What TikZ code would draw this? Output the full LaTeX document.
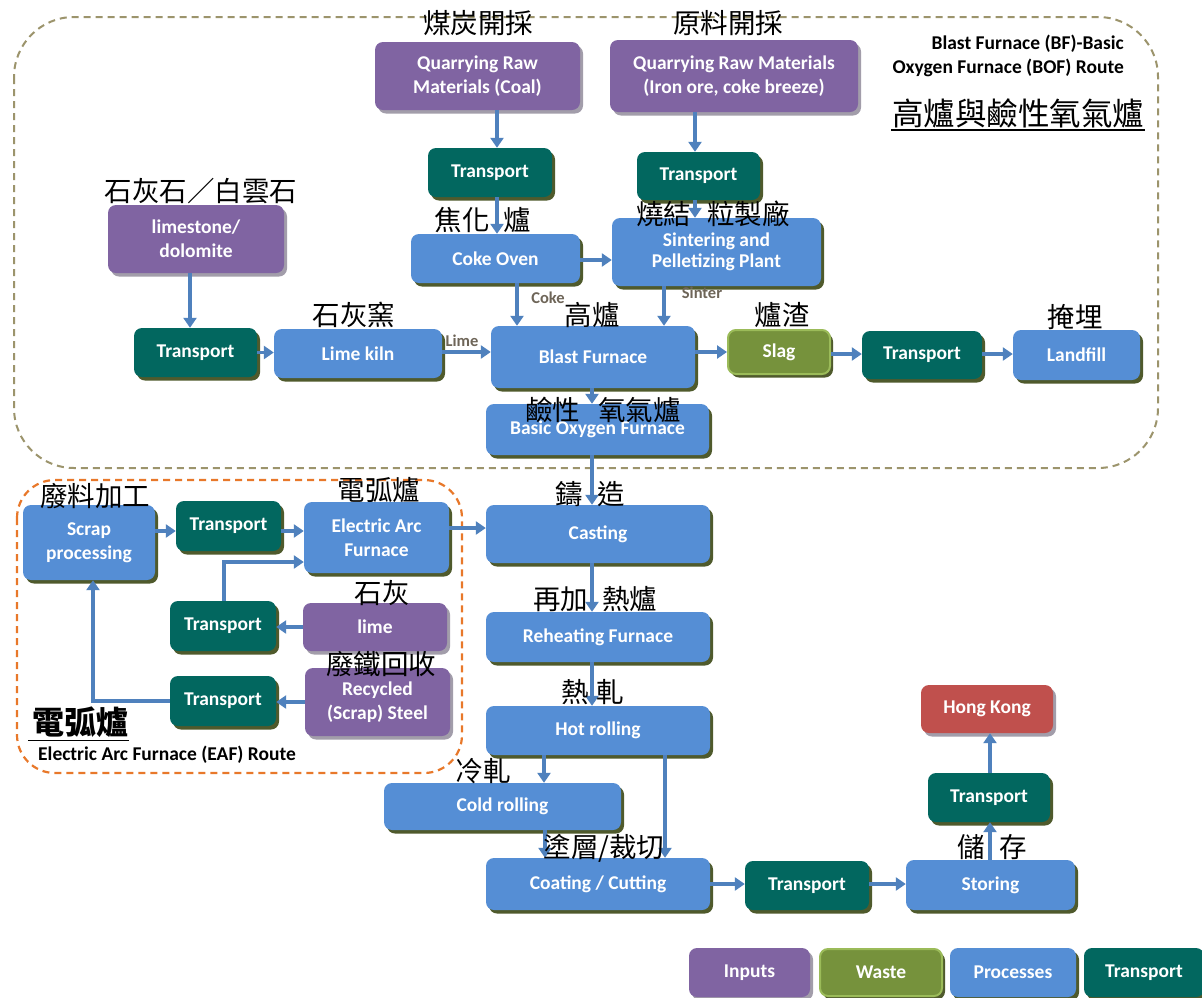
\documentclass[tikz,border=0pt]{standalone}
\usepackage{fontspec}
\setmainfont{Carlito}
\newfontfamily\cjk{Noto Sans CJK TC}
\usetikzlibrary{arrows.meta,calc}

\definecolor{inputc}{HTML}{8064A2}
\definecolor{wastec}{HTML}{76923C}
\definecolor{wasteb}{HTML}{9BBB59}
\definecolor{procc}{HTML}{558ED5}
\definecolor{transc}{HTML}{02675F}
\definecolor{hkc}{HTML}{C0504D}
\definecolor{arrc}{HTML}{4F81BD}
\definecolor{shadc}{HTML}{4F5A2C}
\definecolor{greyshad}{HTML}{A29DAA}
\definecolor{routec}{HTML}{9C946C}
\definecolor{eafc}{HTML}{E8782A}
\definecolor{smallc}{HTML}{6E6558}

\tikzset{
  box/.style={rounded corners=8pt, text=white, align=center, inner sep=0pt,
    font=\bfseries\fontsize{19.5}{24}\selectfont},
  olshadow/.style={preaction={fill=shadc, transform canvas={shift={(3pt,-3.5pt)}}}},
  grshadow/.style={preaction={fill=greyshad, transform canvas={shift={(3pt,-3.5pt)}}}},
  inp/.style={box, grshadow, fill=inputc},
  proc/.style={box, olshadow, fill=procc},
  trans/.style={box, olshadow, fill=transc},
  waste/.style={box, olshadow, fill=wastec, draw=wasteb, line width=2pt},
  dest/.style={box, grshadow, fill=hkc},
  arr/.style={draw=arrc, line width=3.2pt, -{Triangle[length=10pt,width=13pt]}},
  cjklab/.style={font=\cjk\fontsize{27.5}{27.5}\selectfont, text=black, inner sep=0pt},
  smalllab/.style={font=\bfseries\fontsize{16.5}{16.5}\selectfont, text=smallc, inner sep=0pt},
  routelab/.style={font=\bfseries\fontsize{19.5}{24}\selectfont, text=black, inner sep=0pt},
}

\begin{document}
\begin{tikzpicture}[x=1pt, y=-1pt]
\useasboundingbox (0,0) rectangle (1202,997);
\fill[white] (0,0) rectangle (1202,997);

% route frames
\draw[routec, line width=2pt, dash pattern=on 7pt off 5pt, rounded corners=60pt]
  (14,17) rectangle (1158,468);
\draw[eafc, line width=2.2pt, dash pattern=on 7pt off 5pt, rounded corners=38pt]
  (17,480) rectangle (462,773);

% ---------- BF-BOF route ----------
\node[inp, minimum width=205pt, minimum height=68pt] (qcoal) at (477.5,76) {Quarrying Raw\\Materials (Coal)};
\node[inp, minimum width=248pt, minimum height=72pt] (qore) at (734,76) {Quarrying Raw Materials\\(Iron ore, coke breeze)};
\node[trans, minimum width=124pt, minimum height=49pt] (trC) at (490,172.5) {Transport};
\node[trans, minimum width=123pt, minimum height=48pt] (trO) at (698.5,176) {Transport};
\node[inp, minimum width=176pt, minimum height=68pt] (lstone) at (196,239) {limestone/\\dolomite};
\node[proc, minimum width=169pt, minimum height=49pt] (coke) at (495.5,258.5) {Coke Oven};
\node[proc, minimum width=209pt, minimum height=68pt] (sinter) at (716.5,252) {\raisebox{-3pt}{\shortstack{Sintering and\\[1pt]Pelletizing Plant}}};
\node[trans, minimum width=123pt, minimum height=49pt] (trL) at (195.5,352.5) {Transport};
\node[proc, minimum width=168pt, minimum height=49pt] (kiln) at (358,353.5) {Lime kiln};
\node[proc, minimum width=204pt, minimum height=62pt] (bf) at (593,357) {\raisebox{-5pt}{Blast Furnace}};
\node[waste, minimum width=102pt, minimum height=44pt] (slag) at (779,352) {Slag};
\node[trans, minimum width=120pt, minimum height=48pt] (trS) at (922,355) {Transport};
\node[proc, minimum width=127pt, minimum height=50pt] (landfill) at (1076.5,355) {Landfill};
\node[proc, minimum width=223pt, minimum height=51pt] (bof) at (597.5,429.5) {\raisebox{-2pt}{Basic Oxygen Furnace}};

% ---------- EAF route ----------
\node[proc, minimum width=132pt, minimum height=75pt] (scrap) at (89,542.5) {Scrap\\processing};
\node[trans, minimum width=105pt, minimum height=50pt] (trE1) at (228.5,526) {Transport};
\node[proc, minimum width=145pt, minimum height=71pt] (eaf) at (376.5,537.5) {Electric Arc\\Furnace};
\node[trans, minimum width=106pt, minimum height=50pt] (trE2) at (223,626) {Transport};
\node[inp, minimum width=144pt, minimum height=48pt] (limeE) at (375,627) {lime};
\node[trans, minimum width=106pt, minimum height=50pt] (trE3) at (223,701) {Transport};
\node[inp, minimum width=145pt, minimum height=68pt] (recyc) at (377.5,702) {Recycled\\(Scrap) Steel};

% ---------- downstream ----------
\node[proc, minimum width=224pt, minimum height=58pt] (cast) at (598,534) {Casting};
\node[proc, minimum width=224pt, minimum height=50pt] (reheat) at (598,637) {Reheating Furnace};
\node[proc, minimum width=224pt, minimum height=49pt] (hot) at (598,730.5) {Hot rolling};
\node[proc, minimum width=237pt, minimum height=47pt] (cold) at (502.5,806.5) {Cold rolling};
\node[proc, minimum width=224pt, minimum height=52pt] (coat) at (598,884) {Coating / Cutting};
\node[trans, minimum width=124pt, minimum height=49pt] (trF) at (807,885.5) {Transport};
\node[proc, minimum width=169pt, minimum height=50pt] (stor) at (990.5,885) {Storing};
\node[trans, minimum width=122pt, minimum height=49pt] (trH) at (989,797.5) {Transport};
\node[dest, minimum width=132pt, minimum height=48pt] (hk) at (987,709) {Hong Kong};

% ---------- legend ----------
\node[inp, minimum width=121pt, minimum height=49pt] (legI) at (749.5,972.5) {Inputs};
\node[waste, minimum width=122pt, minimum height=47pt] (legW) at (881,972.5) {Waste};
\node[proc, minimum width=126pt, minimum height=49pt] (legP) at (1013,972.5) {Processes};
\node[trans, minimum width=120pt, minimum height=49pt] (legT) at (1144,972.5) {Transport};

% ---------- connector start points ----------
\coordinate (s1) at ($(qcoal.south)+(19.5,0)$);
\coordinate (s2) at ($(trC.south)+(7,0)$);
\coordinate (s3) at ($(qore.south)+(-39,0)$);
\coordinate (s4) at ($(trO.south)+(-3.5,0)$);
\coordinate (s5) at ($(coke.east)+(0,1.5)$);
\coordinate (s6) at ($(coke.south)+(21.5,0)$);
\coordinate (s7) at ($(sinter.south)+(-52.5,0)$);
\coordinate (s8) at ($(lstone.south)+(-6,0)$);
\coordinate (s9) at ($(kiln.east)+(0,-1.5)$);
\coordinate (s10) at ($(bf.east)+(0,-5)$);
\coordinate (s11) at ($(slag.east)+(0,2)$);
\coordinate (s12) at ($(trS.east)+(0,-1)$);
\coordinate (s13) at ($(bf.south)+(-1,0)$);
\coordinate (s14) at ($(bof.south)+(-5.5,0)$);
\coordinate (s15) at ($(scrap.east)+(0,-11.5)$);
\coordinate (s16) at ($(trE1.east)+(0,5)$);
\coordinate (s17) at ($(trE2.north)+(1,0)$);
\coordinate (e17) at ($(eaf.west)+(0,24.5)$);
\coordinate (e21) at ($(scrap.south)+(4,0)$);
\coordinate (s22) at ($(eaf.east)+(0,-9.5)$);
\coordinate (s23) at ($(cast.south)+(-6,0)$);
\coordinate (s24) at ($(reheat.south)+(-6,0)$);
\coordinate (s25) at ($(hot.south)+(-54,0)$);
\coordinate (s26) at ($(hot.south)+(67,0)$);
\coordinate (s27) at ($(cold.south)+(42.5,0)$);
\coordinate (s29) at ($(trF.east)+(0,-1.5)$);
\coordinate (s30) at ($(stor.north)+(-0.5,0)$);
\coordinate (s31) at ($(trH.north)+(1,0)$);

% ---------- connectors: BF-BOF ----------
\draw[arr] (s1) -- (s1 |- trC.north);
\draw[arr] (s2) -- (s2 |- coke.north);
\draw[arr] (s3) -- (s3 |- trO.north);
\draw[arr] (s4) -- (s4 |- sinter.north);
\draw[arr] (s5) -- (s5 -| sinter.west);
\draw[arr] (s6) -- (s6 |- bf.north);
\draw[arr] (s7) -- (s7 |- bf.north);
\draw[arr] (s8) -- (s8 |- trL.north);
\draw[arr] (trL.east) -- (trL.east -| kiln.west);
\draw[arr] (s9) -- (s9 -| bf.west);
\draw[arr] (s10) -- (s10 -| slag.west);
\draw[arr] (s11) -- (s11 -| trS.west);
\draw[arr] (s12) -- (s12 -| landfill.west);
\draw[arr] (s13) -- (s13 |- bof.north);
\draw[arr] (s14) -- (s14 |- cast.north);

% ---------- connectors: EAF ----------
\draw[arr] (s15) -- (s15 -| trE1.west);
\draw[arr] (s16) -- (s16 -| eaf.west);
\draw[arr] (limeE.west) -- (limeE.west -| trE2.east);
\draw[arr] (s17) |- (e17);
\draw[arr] (recyc.west) -- (recyc.west -| trE3.east);
\draw[arr] (trE3.west) -| (e21);
\draw[arr] (s22) -- (s22 -| cast.west);

% ---------- connectors: downstream ----------
\draw[arr] (s23) -- (s23 |- reheat.north);
\draw[arr] (s24) -- (s24 |- hot.north);
\draw[arr] (s25) -- (s25 |- cold.north);
\draw[arr] (s26) -- (s26 |- coat.north);
\draw[arr] (s27) -- (s27 |- coat.north);
\draw[arr] (coat.east) -- (coat.east -| trF.west);
\draw[arr] (s29) -- (s29 -| stor.west);
\draw[arr] (s30) -- (s30 |- trH.south);
\draw[arr] (s31) -- (s31 |- hk.south);

% ---------- flow labels ----------
\node[smalllab] (lcoke) at (548,298) {Coke};
\node[smalllab] (lsinter) at (702,293) {Sinter};
\node[smalllab] (llime) at (462,341) {Lime};

% ---------- Chinese labels ----------
\node[cjklab] (c1) at (478,23) {煤炭開採};
\node[cjklab] (c2) at (728,23) {原料開採};
\node[cjklab] (c3) at (201,191) {石灰石／白雲石};
\node[cjklab] (c4) at (483,220) {焦化\hspace{14pt}爐};
\node[cjklab] (c5) at (713,214) {燒結\hspace{16pt}粒製廠};
\node[cjklab] (c6) at (354,315) {石灰窯};
\node[cjklab] (c7) at (592,315) {高爐};
\node[cjklab] (c8) at (782,315) {爐渣};
\node[cjklab] (c9) at (1075,317) {掩埋};
\node[cjklab] (c10) at (603,410) {鹼性\hspace{18pt}氧氣爐};
\node[cjklab] (c11) at (95,496) {廢料加工};
\node[cjklab] (c12) at (379,490) {電弧爐};
\node[cjklab] (c13) at (382,593) {石灰};
\node[cjklab] (c14) at (381,664) {廢鐵回收};
\node[cjklab] (c15) at (590,494) {鑄\hspace{14pt}造};
\node[cjklab] (c16) at (595,599) {再加\hspace{14pt}熱爐};
\node[cjklab] (c17) at (593,692) {熱\hspace{8pt}軋};
\node[cjklab] (c18) at (483,771) {冷軋};
\node[cjklab] (c19) at (604,848) {塗層/裁切};
\node[cjklab] (c20) at (992,847) {儲\hspace{14pt}存};

% ---------- route titles ----------
\node[routelab, anchor=east, align=right] (bftitle) at (1124,56) {Blast Furnace (BF)-Basic\\Oxygen Furnace (BOF) Route};
\node[font=\cjk\fontsize{31.5}{31.5}\selectfont, inner sep=1pt] (bfhead) at (1018,113) {高爐與鹼性氧氣爐};
\draw[line width=1.6pt] ($(bfhead.south west)+(0,1)$) -- ($(bfhead.south east)+(0,1)$);
\node[font=\cjk\bfseries\fontsize{32}{32}\selectfont, inner sep=1pt] (eafhead) at (80,722) {電弧爐};
\draw[line width=1.6pt] ($(eafhead.south west)+(-3,2)$) -- ($(eafhead.south east)+(0,2)$);
\node[routelab, anchor=west] (eaftitle) at (38,755) {Electric Arc Furnace (EAF) Route};

\end{tikzpicture}
\end{document}
